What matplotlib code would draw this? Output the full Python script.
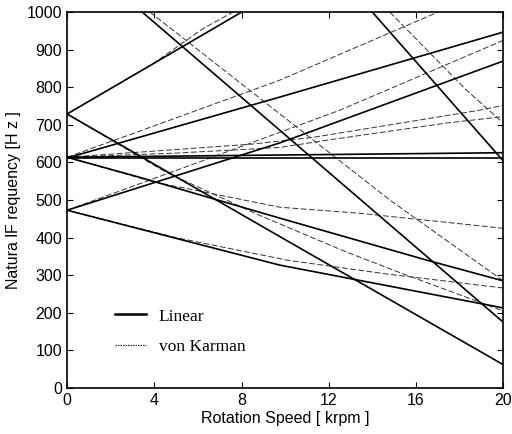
import matplotlib
matplotlib.use('Agg')
import matplotlib.pyplot as plt
from matplotlib.lines import Line2D

# Linear model: (speed [krpm], frequency [Hz]) per mode branch
lin_729_fwd_x = [0, 8]
lin_729_fwd_y = [729, 1000]
lin_729_bwd_x = [0, 9.75, 20]
lin_729_bwd_y = [729, 403, 62]
lin_614_fwd_x = [0, 9.75, 20]
lin_614_fwd_y = [612, 774, 947]
lin_473_fwd_x = [0, 9.75, 20]
lin_473_fwd_y = [473, 652, 870]
lin_flat_a_x = [0, 20]
lin_flat_a_y = [614, 626]
lin_flat_b_x = [0, 20]
lin_flat_b_y = [612, 612]
lin_614_bwd_x = [0, 3.3, 9.75, 16.5, 20]
lin_614_bwd_y = [614, 561, 452, 340, 285]
lin_473_bwd_x = [0, 9.75, 20]
lin_473_bwd_y = [473, 327, 213]
lin_high_bwd_x = [3.45, 20]
lin_high_bwd_y = [1000, 175]
lin_top_bwd_x = [14, 20]
lin_top_bwd_y = [1000, 604]

# von Karman model
vk_729_fwd_x = [0, 4, 6.2, 7.6]
vk_729_fwd_y = [729, 865, 955, 1000]
vk_614_fwd_x = [0, 3.45, 9.75, 17]
vk_614_fwd_y = [614, 686, 819, 1000]
vk_473_fwd_x = [0, 6, 12.5, 20]
vk_473_fwd_y = [473, 600, 739, 925]
vk_flat_a_x = [0, 4.4, 8.5, 11.3, 18.9, 20]
vk_flat_a_y = [614, 632, 649, 667, 739, 752]
vk_flat_b_x = [0, 5, 9.75, 12, 17.4, 20]
vk_flat_b_y = [614, 625, 640, 660, 705, 722]
vk_614_bwd_x = [0, 4, 9.75, 13.4, 20]
vk_614_bwd_y = [614, 548, 481, 465, 425]
vk_473_bwd_x = [0, 5, 10.1, 14.7, 20]
vk_473_bwd_y = [473, 400, 340, 303, 266]
vk_729_bwd_x = [0, 4.5, 8.8, 12.8, 15.3, 20]
vk_729_bwd_y = [729, 575, 460, 362, 306, 205]
vk_high_bwd_x = [3.8, 14.8, 20]
vk_high_bwd_y = [1000, 500, 285]
vk_top_bwd_x = [14.8, 18.3, 20]
vk_top_bwd_y = [1000, 793, 705]

linear_lines = [
    (lin_729_fwd_x, lin_729_fwd_y), (lin_729_bwd_x, lin_729_bwd_y),
    (lin_614_fwd_x, lin_614_fwd_y), (lin_473_fwd_x, lin_473_fwd_y),
    (lin_flat_a_x, lin_flat_a_y), (lin_flat_b_x, lin_flat_b_y),
    (lin_614_bwd_x, lin_614_bwd_y), (lin_473_bwd_x, lin_473_bwd_y),
    (lin_high_bwd_x, lin_high_bwd_y), (lin_top_bwd_x, lin_top_bwd_y),
]
vk_lines = [
    (vk_729_fwd_x, vk_729_fwd_y), (vk_614_fwd_x, vk_614_fwd_y),
    (vk_473_fwd_x, vk_473_fwd_y), (vk_flat_a_x, vk_flat_a_y),
    (vk_flat_b_x, vk_flat_b_y), (vk_614_bwd_x, vk_614_bwd_y),
    (vk_473_bwd_x, vk_473_bwd_y), (vk_729_bwd_x, vk_729_bwd_y),
    (vk_high_bwd_x, vk_high_bwd_y), (vk_top_bwd_x, vk_top_bwd_y),
]

x_ticks = [0, 4, 8, 12, 16, 20]
y_ticks = [0, 100, 200, 300, 400, 500, 600, 700, 800, 900, 1000]

plt.rcParams['font.family'] = ['Liberation Sans', 'DejaVu Sans']

fig = plt.figure(figsize=(5.12, 4.34), dpi=100)
ax = fig.add_axes([0.131, 0.106, 0.852, 0.866])

for x, y in vk_lines:
    ax.plot(x, y, color='#333333', lw=0.7, linestyle=(0, (6, 2.5)))
for x, y in linear_lines:
    ax.plot(x, y, color='black', lw=1.2)

ax.set_xlim(0, 20)
ax.set_ylim(0, 1000)
ax.set_xticks(x_ticks)
ax.set_yticks(y_ticks)
ax.tick_params(direction='in', top=True, right=True, labelsize=11.5, length=4)
for s in ax.spines.values():
    s.set_linewidth(1.2)

ax.set_xlabel('Rotation Speed [ krpm ]', fontsize=11.5, labelpad=2)
ax.set_ylabel('Natura lF requency [H z ]', fontsize=11.5, labelpad=4)

# legend drawn with its own handles (dotted sample like the original)
handles = [Line2D([], [], color='black', lw=1.8),
           Line2D([], [], color='#333333', lw=0.9, linestyle=(0, (1.2, 0.8)))]
ax.legend(handles, ['Linear', 'von Karman'], loc='lower left',
          bbox_to_anchor=(0.075, 0.045), frameon=False, handlelength=1.75,
          handletextpad=0.75, labelspacing=0.85,
          prop={'family': 'Liberation Serif', 'size': 12.5})

fig.savefig('out.png', dpi=100)
